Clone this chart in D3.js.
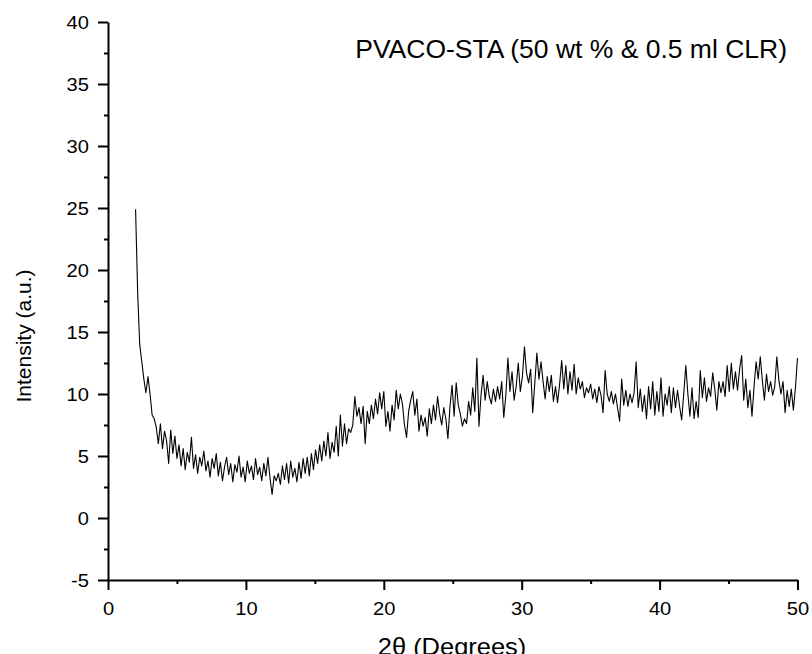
<!DOCTYPE html>
<html>
<head>
<meta charset="utf-8">
<script src="https://cdn.jsdelivr.net/npm/d3@7"></script>
<style>
  body { margin: 0; background: #fff; }
  text { font-family: "Liberation Sans", Arial, sans-serif; fill: #000; }
</style>
</head>
<body>
<div id="vis"></div>
<script>
// scan grid (2theta, degrees) - start and step of the measured points
var scanStart = 2.0;
var scanStep = 0.15;

// intensity, one value per step, 10 per row
var intensity = [
  24.9, 18.2, 14.0, 12.6, 11.2, 10.1, 11.4, 10.0, 8.3, 8.0,
  7.3, 6.0, 7.6, 5.6, 7.0, 6.2, 4.4, 7.1, 5.2, 6.6,
  4.8, 5.9, 4.2, 5.6, 3.9, 5.3, 4.5, 6.5, 4.0, 5.1,
  3.6, 4.9, 4.2, 5.4, 3.8, 4.6, 3.3, 4.8, 4.0, 5.2,
  3.4, 4.5, 3.0, 4.1, 4.9, 3.5, 4.4, 2.9, 4.3, 3.7,
  5.0, 3.3, 4.1, 2.9, 4.6, 3.6, 4.2, 3.1, 4.8, 3.5,
  4.1, 3.0, 4.4, 3.4, 4.9, 3.2, 1.9, 3.4, 3.0, 3.6,
  2.7, 4.2, 3.1, 4.4, 2.8, 4.6, 3.3, 4.0, 2.9, 4.5,
  3.2, 4.8, 3.6, 4.9, 3.4, 5.2, 3.9, 5.5, 4.4, 5.9,
  4.6, 6.2, 5.0, 6.9, 4.8, 6.1, 5.3, 7.4, 5.0, 8.3,
  5.8, 7.6, 6.0, 7.2, 6.9, 7.5, 9.8, 8.2, 8.9, 7.6,
  9.0, 6.0, 8.6, 7.6, 9.1, 8.0, 9.6, 8.4, 10.1, 8.8,
  10.2, 7.4, 8.6, 7.0, 9.1, 7.9, 10.3, 8.8, 10.0, 9.2,
  7.5, 6.5, 8.6, 9.5, 10.2, 8.3, 9.6, 7.0, 8.3, 7.4,
  8.1, 6.6, 8.8, 7.6, 9.1, 7.9, 9.8, 8.4, 7.5, 8.9,
  8.0, 6.4, 9.0, 10.7, 8.2, 10.9, 9.1, 8.4, 7.4, 8.0,
  7.6, 9.4, 8.3, 10.5, 8.6, 12.9, 7.4, 9.9, 11.5, 9.5,
  11.0, 9.8, 9.2, 10.4, 9.4, 10.6, 9.6, 11.0, 8.1, 9.9,
  12.9, 10.2, 11.8, 9.5, 10.6, 12.5, 10.2, 11.4, 13.8, 11.7,
  10.9, 12.0, 8.5, 10.9, 13.3, 11.2, 12.6, 11.0, 9.6, 11.4,
  10.2, 11.5, 9.4, 10.6, 9.3, 10.8, 12.7, 10.4, 12.3, 10.0,
  11.8, 10.3, 12.4, 10.0, 11.3, 10.4, 11.0, 9.7, 10.5, 10.1,
  10.8, 9.6, 10.4, 9.3, 10.6, 9.9, 8.5, 11.9, 10.0, 9.4,
  10.2, 9.2, 10.0, 8.9, 7.8, 11.2, 9.1, 10.3, 9.0, 10.0,
  9.3, 10.1, 12.6, 8.9, 10.4, 8.6, 9.9, 8.0, 10.6, 8.8,
  11.0, 8.3, 10.2, 8.6, 11.3, 8.2, 10.0, 9.1, 10.6, 8.5,
  10.5, 8.9, 10.3, 9.0, 7.9, 10.0, 12.3, 10.0, 8.2, 10.5,
  8.0, 9.4, 8.1, 11.9, 9.7, 11.3, 9.4, 10.5, 9.8, 11.7,
  10.4, 8.7, 11.0, 10.1, 11.0, 9.8, 12.3, 10.2, 12.5, 10.4,
  11.8, 10.3, 12.0, 13.1, 9.5, 11.2, 8.9, 10.3, 8.2, 10.6,
  12.6, 11.2, 13.0, 11.1, 9.5, 11.6, 10.2, 11.0, 9.9, 10.6,
  13.0, 11.1, 10.0, 11.0, 8.5, 10.3, 9.0, 10.4, 8.7, 10.5,
  12.9
];

// axis ticks
var xTicks = [0, 10, 20, 30, 40, 50];
var xMinorTicks = [5, 15, 25, 35, 45];
var yTicks = [-5, 0, 5, 10, 15, 20, 25, 30, 35, 40];
var yMinorTicks = [-2.5, 2.5, 7.5, 12.5, 17.5, 22.5, 27.5, 32.5, 37.5];

var title = "PVACO-STA (50 wt % & 0.5 ml CLR)";
var xTitle = "2\u03b8 (Degrees)";
var yTitle = "Intensity (a.u.)";

var width = 812, height = 654;
var margin = {left: 108, right: 14.5, top: 22, bottom: 74};

var points = intensity.map(function(v, i){ return {x: scanStart + i * scanStep, y: v}; });

var xScale = d3.scaleLinear().domain([0, 50]).range([margin.left, width - margin.right]);
var yScale = d3.scaleLinear().domain([-5, 40]).range([height - margin.bottom, margin.top]);

var svg = d3.select("#vis").append("svg").attr("width", width).attr("height", height);

// the scan itself
var line = d3.line().x(function(d){ return xScale(d.x); }).y(function(d){ return yScale(d.y); });
svg.append("path")
   .datum(points)
   .attr("d", line)
   .attr("fill", "none")
   .attr("stroke", "#000")
   .attr("stroke-width", 1.1)
   .attr("stroke-linejoin", "round");

// minor ticks first so the major axis sits on top
svg.append("g").attr("transform", "translate(0," + yScale(-5) + ")")
   .call(d3.axisBottom(xScale).tickValues(xMinorTicks).tickSize(4).tickFormat(""))
   .call(function(g){ g.select(".domain").remove(); g.selectAll("line").attr("stroke-width", 2); });
svg.append("g").attr("transform", "translate(" + xScale(0) + ",0)")
   .call(d3.axisLeft(yScale).tickValues(yMinorTicks).tickSize(4).tickFormat(""))
   .call(function(g){ g.select(".domain").remove(); g.selectAll("line").attr("stroke-width", 2); });

// plain hyphen for negatives, like the source plot
var plainFormat = function(d){ return String(d); };

var xAxis = d3.axisBottom(xScale).tickValues(xTicks).tickFormat(plainFormat).tickSize(10).tickSizeOuter(0).tickPadding(12);
var yAxis = d3.axisLeft(yScale).tickValues(yTicks).tickFormat(plainFormat).tickSize(10).tickSizeOuter(0).tickPadding(8);

// source picture is a bit wide, so all text gets stretched 6% sideways
svg.append("g").attr("transform", "translate(0," + yScale(-5) + ")").call(xAxis)
   .call(function(g){
     g.select(".domain").attr("stroke-width", 2);
     g.selectAll("line").attr("stroke-width", 2);
     g.selectAll("text").attr("font-size", 19).attr("font-family", null).attr("transform", "scale(1.06,1)");
   });
svg.append("g").attr("transform", "translate(" + xScale(0) + ",0)").call(yAxis)
   .call(function(g){
     g.select(".domain").attr("stroke-width", 2);
     g.selectAll("line").attr("stroke-width", 2);
     g.selectAll("text").attr("font-size", 19).attr("font-family", null).attr("transform", "scale(1.06,1)");
   });

// title inside the plot, top right
svg.append("text")
   .attr("transform", "translate(787,58) scale(1.06,1)")
   .attr("text-anchor", "end")
   .attr("font-size", 25)
   .text(title);

// axis labels
svg.append("text")
   .attr("transform", "translate(452,655) scale(1.06,1)")
   .attr("text-anchor", "middle")
   .attr("font-size", 24)
   .text(xTitle);

svg.append("text")
   .attr("transform", "translate(31,336) rotate(-90)")
   .attr("text-anchor", "middle")
   .attr("font-size", 21)
   .text(yTitle);
</script>
</body>
</html>
